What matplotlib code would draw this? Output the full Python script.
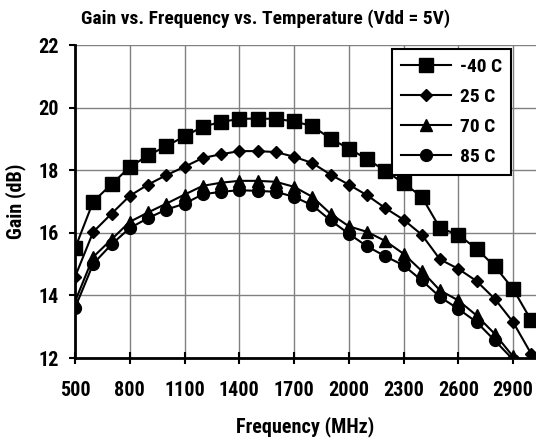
import matplotlib
matplotlib.use("Agg")
import matplotlib.pyplot as plt

freq = list(range(500, 3001, 100))
gain_m40 = [15.5, 17.0, 17.55, 18.1, 18.47, 18.77, 19.08, 19.39, 19.54, 19.64, 19.65, 19.64, 19.56,
            19.41, 19.01, 18.69, 18.36, 17.98, 17.59, 17.15, 16.15, 15.94, 15.49, 14.93, 14.21, 13.2]
gain_25 = [14.59, 16.03, 16.61, 17.18, 17.54, 17.84, 18.11, 18.39, 18.51, 18.61, 18.61, 18.58, 18.43,
           18.23, 17.86, 17.54, 17.2, 16.79, 16.42, 15.94, 15.15, 14.85, 14.46, 13.89, 13.15, 12.13]
gain_70 = [13.8, 15.23, 15.79, 16.35, 16.65, 16.93, 17.22, 17.5, 17.6, 17.66, 17.66, 17.63, 17.47,
           17.15, 16.61, 16.21, 16.03, 15.74, 15.33, 14.78, 14.16, 13.84, 13.36, 12.77, 12.05, 11.1]
gain_85 = [13.6, 15.01, 15.63, 16.15, 16.47, 16.74, 16.93, 17.23, 17.31, 17.36, 17.34, 17.31, 17.15,
           16.88, 16.4, 15.97, 15.57, 15.25, 14.96, 14.48, 13.95, 13.57, 13.15, 12.56, 11.95, 10.9]
labels = ["-40 C", "25 C", "70 C", "85 C"]
xticks = list(range(500, 3001, 300))
yticks = [12, 14, 16, 18, 20, 22]

plt.rcParams['font.family'] = ['Roboto Condensed', 'PT Sans Narrow', 'DejaVu Sans']
plt.rcParams['font.weight'] = 'bold'
FS = 14.5

fig = plt.figure(figsize=(5.36, 4.4), dpi=100)
ax = fig.add_axes([75/536, 1-358/440, 461/536, 313/440])

series = [gain_m40, gain_25, gain_70, gain_85]
markers = ['s', 'D', '^', 'o']
msizes = [9.5, 6, 8.5, 8.5]
for s, m, ms, lab in zip(series, markers, msizes, labels):
    ax.plot(freq, s, color='black', lw=1.5, marker=m, markersize=ms, label=lab, clip_on=True)

ax.set_xlim(500, 3026)
ax.set_ylim(12, 22)
ax.set_xticks(xticks)
ax.set_yticks(yticks)
ax.grid(True, color='#808080', lw=1)
ax.set_axisbelow(True)
for sp in ['top', 'right']:
    ax.spines[sp].set_visible(False)
for sp in ['left', 'bottom']:
    ax.spines[sp].set_linewidth(2)
    ax.spines[sp].set_color('black')
ax.tick_params(axis='x', direction='inout', length=9, width=1.5, labelsize=FS, pad=12)
ax.tick_params(axis='y', direction='out', length=4.5, width=1.5, labelsize=FS, pad=7)
for t in ax.get_xticklabels() + ax.get_yticklabels():
    t.set_fontweight('bold')

ax.set_xlabel("Frequency (MHz)", fontsize=FS, fontweight='bold', labelpad=12)
ax.set_ylabel("Gain (dB)", fontsize=FS, fontweight='bold', labelpad=9)
fig.text(266/536, 1-19/440, "Gain vs. Frequency vs. Temperature (Vdd = 5V)", ha='center', va='center',
         fontsize=14, fontweight='bold')

leg = ax.legend(loc='upper left', bbox_to_anchor=(0.688, 0.987), frameon=True, fancybox=False,
                edgecolor='black', fontsize=14, handlelength=2.6, handletextpad=0.45,
                borderpad=0.45, labelspacing=0.62, borderaxespad=0)
leg.get_frame().set_linewidth(1.5)
leg.get_frame().set_alpha(1)
for t in leg.get_texts():
    t.set_fontweight('bold')

fig.savefig("out.png", dpi=100)
